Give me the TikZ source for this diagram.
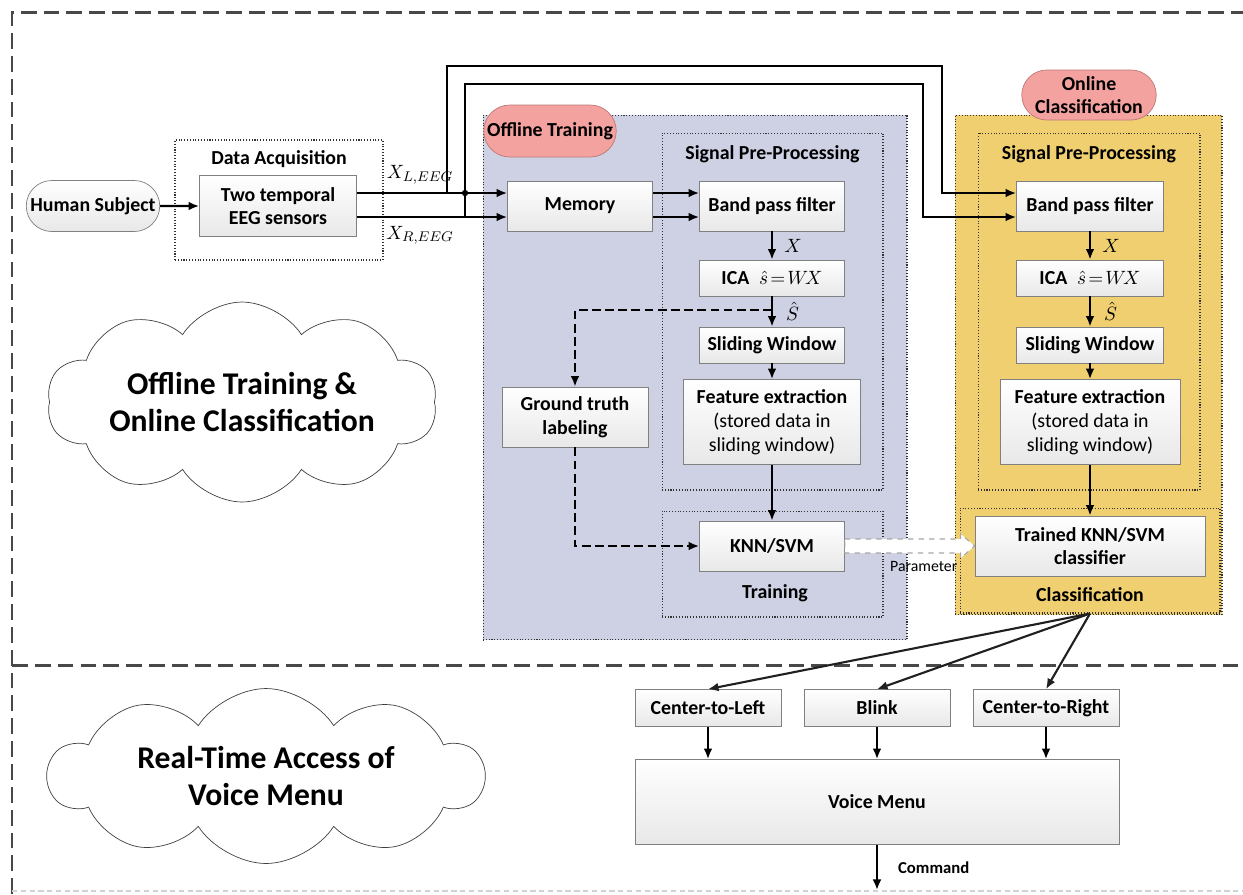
\documentclass[tikz,border=0pt]{standalone}
\usepackage{fontspec}
\setmainfont{Carlito}
\usetikzlibrary{arrows.meta,calc,positioning,shapes.misc,shapes.symbols}
\definecolor{OffClr}{RGB}{206,209,228}
\definecolor{OnClr}{RGB}{240,207,112}
\definecolor{TagClr}{RGB}{243,162,160}
\definecolor{TagLine}{RGB}{190,120,118}
\definecolor{BoxLine}{RGB}{128,128,128}
\definecolor{FrameClr}{RGB}{72,72,72}

\begin{document}
\begin{tikzpicture}[x=0.02cm,y=-0.02cm,
  every node/.style={font=\fontsize{11.3}{13.5}\selectfont},
  box/.style={draw=BoxLine,top color=white,bottom color=gray!18,align=center,
    inner sep=1pt,font=\fontsize{11.3}{13.5}\selectfont\bfseries},
  region/.style={draw=gray!40!black,densely dotted,line width=0.6pt,inner sep=0pt},
  tag/.style={rounded rectangle,draw=TagLine,fill=TagClr,align=center,inner sep=1pt,
    font=\fontsize{11.3}{13}\selectfont\bfseries},
  title/.style={font=\fontsize{11.3}{13.5}\selectfont\bfseries},
  wire/.style={line width=1.4pt,-{Latex[length=6pt,width=5pt]}},
  dashwire/.style={line width=1.4pt,dash pattern=on 5pt off 2.5pt,-{Latex[length=6pt,width=5pt]}},
  fan/.style={line width=1.2pt,draw=gray!25!black,-{Latex[length=6pt,width=5pt]}},
  frame/.style={draw=FrameClr,line width=1.7pt,dash pattern=on 9pt off 4pt},
  paramarrow/.style={draw=gray!70,fill=white,dashed,line width=0.6pt},
  bubble/.style={cloud,cloud ignores aspect,draw=gray!50!black,fill=white,cloud puffs=10,
    cloud puff arc=115,inner sep=0pt},
  bubbletext/.style={align=center,font=\fontsize{18}{21}\selectfont\bfseries}]

\useasboundingbox (0,0) rectangle (1243,894);

\draw[frame] (12,894) -- (12,12) -- (1243,12);
\draw[frame] (12,665) -- (1243,665);
\draw[gray!35,densely dashed,line width=0.8pt] (12,891) -- (1243,891);

\node[bubble,minimum width=7.8cm,minimum height=4cm] (cloudA) at (242,402) {};
\node[bubbletext] at (cloudA) {Offline Training \&\\Online Classification};
\node[bubble,minimum width=8.7cm,minimum height=3.5cm] (cloudB) at (266,776) {};
\node[bubbletext] at (cloudB) {Real-Time Access of\\Voice Menu};

\node[region,minimum width=4.16cm,minimum height=2.4cm] (acq) at (279,200) {};
\node[title,below=3pt of acq.north] {Data Acquisition};

\node[region,fill=OffClr,minimum width=8.48cm,minimum height=10.5cm] (offreg) at (695,377.5) {};
\node[region,minimum width=4.42cm,minimum height=7.14cm] (spp1) at (772.5,311.5) {};
\node[region,minimum width=4.42cm,minimum height=2.12cm] (train) at (772.5,564) {};
\node[title,below=4pt of spp1.north] {Signal Pre-Processing};
\node[title] at (775,593) {Training};

\node[region,fill=OnClr,minimum width=5.34cm,minimum height=10cm] (onreg) at (1088.5,365) {};
\node[region,minimum width=4.44cm,minimum height=7.14cm] (spp2) at (1089,311.5) {};
\node[region,minimum width=5.2cm,minimum height=2.1cm] (clsbox) at (1090,560.5) {};
\node[title,below=4pt of spp2.north] {Signal Pre-Processing};
\node[title] at (1090,595) {Classification};

\node[tag,minimum width=2.72cm,minimum height=1.04cm] (offtag) at (550,131) {Offline Training};
\node[tag,minimum width=2.76cm,minimum height=1cm] (ontag) at (1089,95) {Online\\Classification};

\node[box,rounded rectangle,minimum width=2.74cm,minimum height=1.02cm] (human) at (93,206) {Human Subject};
\node[box,minimum width=3.14cm,minimum height=1.22cm] (sensors) at (278,206) {Two temporal\\EEG sensors};

\node[box,minimum width=2.9cm,minimum height=1cm] (memory) at (580,206) {Memory};
\node[box,minimum width=2.9cm,minimum height=1cm] (bpf1) at (772,206) {Band pass filter};
\node[box,minimum width=2.9cm,minimum height=0.72cm] (ica1) at (772,278) {ICA\enspace$\hat{s}\!=\!W\!X$};
\node[box,minimum width=2.9cm,minimum height=0.72cm] (sw1) at (772,345) {Sliding Window};
\node[box,minimum width=3.54cm,minimum height=1.7cm] (fe1) at (772,422) {Feature extraction\\{\mdseries(stored data in}\\{\mdseries sliding window)}};
\node[box,minimum width=2.9cm,minimum height=1cm] (knn1) at (772,546) {KNN/SVM};
\node[box,minimum width=2.92cm,minimum height=1.2cm] (gt) at (575,417) {Ground truth\\labeling};

\node[box,minimum width=2.94cm,minimum height=1cm] (bpf2) at (1090,206) {Band pass filter};
\node[box,minimum width=2.94cm,minimum height=0.72cm] (ica2) at (1090,278) {ICA\enspace$\hat{s}\!=\!W\!X$};
\node[box,minimum width=2.94cm,minimum height=0.72cm] (sw2) at (1090,345) {Sliding Window};
\node[box,minimum width=3.6cm,minimum height=1.7cm] (fe2) at (1090,422) {Feature extraction\\{\mdseries(stored data in}\\{\mdseries sliding window)}};
\node[box,minimum width=4.6cm,minimum height=1.2cm] (trained) at (1090,546) {Trained KNN/SVM\\classifier};

\node[box,minimum width=2.92cm,minimum height=0.74cm] (ctl) at (708,708) {Center-to-Left};
\node[box,minimum width=2.92cm,minimum height=0.74cm] (blink) at (877,708) {Blink};
\node[box,minimum width=2.92cm,minimum height=0.74cm] (ctr) at (1046,708) {Center-to-Right};
\node[box,minimum width=9.68cm,minimum height=1.7cm] (voice) at (877,802) {Voice Menu};

\coordinate (brL) at (447,193);
\coordinate (brR) at (465,217);
\coordinate (upL) at (942,66);
\coordinate (upR) at (923,84);
\coordinate (cmd) at (877,890);

\draw[wire] (human) -- (sensors);
\draw[wire] (sensors.east |- brL) -- (memory.west |- brL) node[pos=0.42,above=1pt] {$X_{L,EEG}$};
\draw[wire] (sensors.east |- brR) -- (memory.west |- brR) node[pos=0.42,below=1pt] {$X_{R,EEG}$};
\draw[wire] (brL) |- (upL) |- (bpf2.west |- brL);
\draw[wire] (brR) |- (upR) |- (bpf2.west |- brR);
\fill (brR |- brL) circle (1.8pt);

\draw[wire] (memory.east |- brL) -- (bpf1.west |- brL);
\draw[wire] (memory.east |- brR) -- (bpf1.west |- brR);
\draw[wire] (bpf1) -- (ica1) node[midway,right=3pt] {$X$};
\draw[wire] (ica1) -- (sw1) node[midway,right=4pt] {$\hat{S}$};
\draw[wire] (sw1) -- (fe1);
\draw[wire] (fe1) -- (knn1);

\coordinate (tap) at ($(ica1.south)!0.45!(sw1.north)$);
\draw[dashwire] (tap) -| (gt.north);
\draw[dashwire] (gt.south) |- (knn1.west);

\draw[wire] (bpf2) -- (ica2) node[midway,right=3pt] {$X$};
\draw[wire] (ica2) -- (sw2) node[midway,right=4pt] {$\hat{S}$};
\draw[wire] (sw2) -- (fe2);
\draw[wire] (fe2) -- (trained);

\draw[paramarrow] ($(knn1.east)+(0,-7)$) -- ($(trained.west)+(-14,-7)$) -- ($(trained.west)+(-14,-12)$)
  -- (trained.west) -- ($(trained.west)+(-14,12)$) -- ($(trained.west)+(-14,7)$) -- ($(knn1.east)+(0,7)$) -- cycle;
\node[font=\fontsize{9}{11}\selectfont,anchor=west] at (884,566) {Parameter};

\draw[fan] (clsbox.south) -- (ctl.north);
\draw[fan] (clsbox.south) -- (blink.north);
\draw[fan] (clsbox.south) -- (ctr.north);

\draw[wire] (ctl) -- (ctl |- voice.north);
\draw[wire] (blink) -- (blink |- voice.north);
\draw[wire] (ctr) -- (ctr |- voice.north);
\draw[wire] (voice) -- (cmd) node[midway,right=8pt,font=\fontsize{9.5}{11}\selectfont\bfseries] {Command};

\end{tikzpicture}
\end{document}
